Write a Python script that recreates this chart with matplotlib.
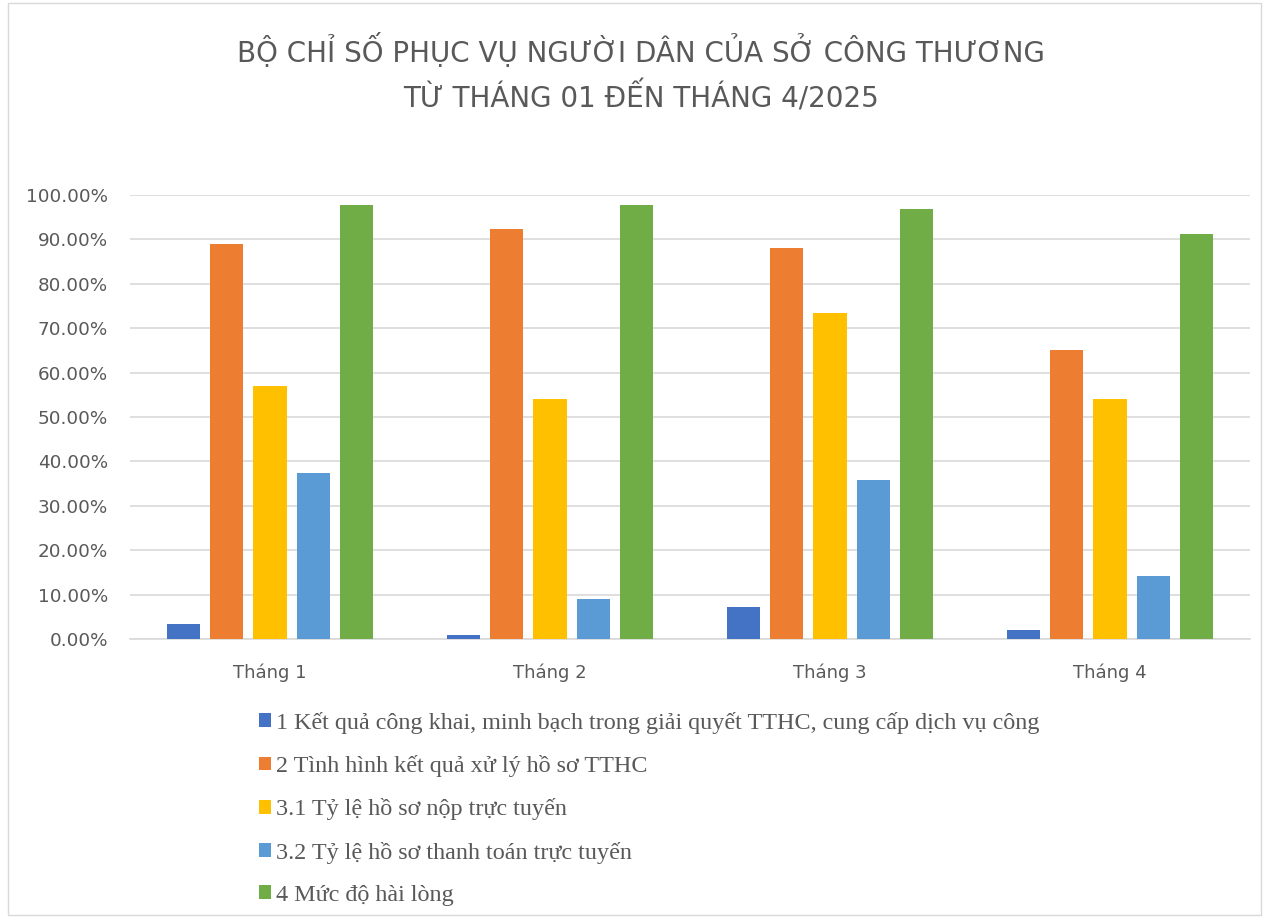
import numpy as np
import matplotlib.pyplot as plt
from matplotlib.patches import Rectangle
from matplotlib.ticker import FuncFormatter

months = ["Tháng 1", "Tháng 2", "Tháng 3", "Tháng 4"]
series_names = [
    "1 Kết quả công khai, minh bạch trong giải quyết TTHC, cung cấp dịch vụ công",
    "2 Tình hình kết quả xử lý hồ sơ TTHC",
    "3.1 Tỷ lệ hồ sơ nộp trực tuyến",
    "3.2 Tỷ lệ hồ sơ thanh toán trực tuyến",
    "4 Mức độ hài lòng",
]
s1 = [3.3, 0.8, 7.2, 2.0]
s2 = [88.9, 92.3, 88.0, 65.0]
s31 = [57.0, 54.0, 73.4, 54.0]
s32 = [37.4, 9.0, 35.7, 14.2]
s4 = [97.7, 97.7, 96.8, 91.3]
colors = ["#4472C4", "#ED7D31", "#FFC000", "#5B9BD5", "#70AD47"]

fig = plt.figure(figsize=(12.69, 9.18), dpi=100)
ax = fig.add_axes([130 / 1269, 1 - 639 / 918, 1120 / 1269, 444 / 918])

x = np.arange(len(months))
pitch = 0.154
width = 0.118
for i, (vals, name) in enumerate(zip([s1, s2, s31, s32, s4], series_names)):
    ax.bar(x + (i - 2) * pitch, vals, width, color=colors[i], label=name, zorder=3)

ax.set_xlim(-0.5, 3.5)
ax.set_ylim(0, 100)
ax.set_yticks(np.arange(0, 101, 10))
ax.yaxis.set_major_formatter(FuncFormatter(lambda v, p: f"{v:.2f}%"))
ax.grid(axis="y", color="#D9D9D9", linewidth=1.2, zorder=0)
for side in ["top", "right", "left"]:
    ax.spines[side].set_visible(False)
ax.spines["bottom"].set_color("#D9D9D9")
ax.spines["bottom"].set_linewidth(1.2)
ax.tick_params(axis="y", length=0, labelsize=13.2, colors="#595959", pad=16)
ax.tick_params(axis="x", length=0, labelsize=13, colors="#595959", pad=18)
ax.set_xticks(x)
ax.set_xticklabels(months, fontfamily="DejaVu Sans")
for lbl in ax.get_yticklabels():
    lbl.set_fontfamily("DejaVu Sans")

fig.text(0.505, 1 - 73 / 918,
         "BỘ CHỈ SỐ PHỤC VỤ NGƯỜI DÂN CỦA SỞ CÔNG THƯƠNG\nTỪ THÁNG 01 ĐẾN THÁNG 4/2025",
         ha="center", va="center", fontsize=20, color="#595959",
         family="DejaVu Sans", linespacing=1.5)

handles, labels = ax.get_legend_handles_labels()
fig.legend(handles, labels, loc="upper left", bbox_to_anchor=(237 / 1269, 1 - 690 / 918),
           frameon=False, ncol=1, prop={"family": "Liberation Serif", "size": 17.4},
           labelcolor="#595959", handlelength=0.5, handleheight=0.5,
           handletextpad=0.2, labelspacing=0.88)

fig.add_artist(Rectangle((8 / 1269, 0.003), 1 - 16 / 1269, 0.994, transform=fig.transFigure,
                         fill=False, edgecolor="#D9D9D9", linewidth=1))

fig.savefig("out.png", dpi=100)
